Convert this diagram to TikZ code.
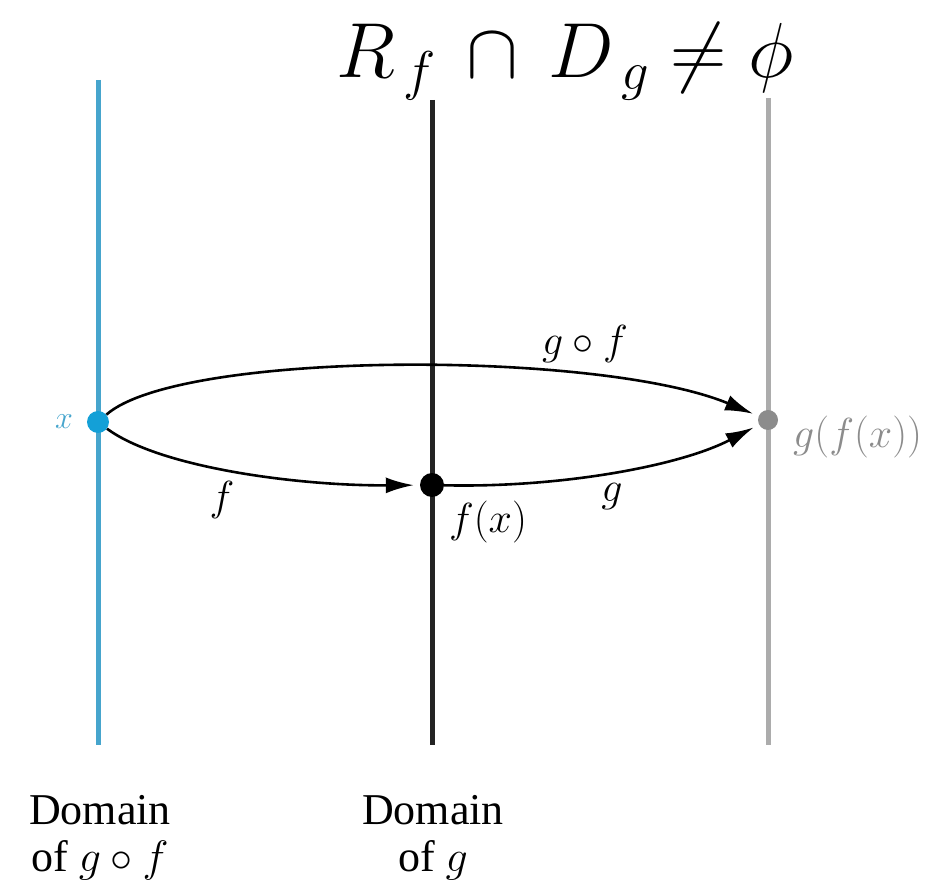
\RequirePackage{fix-cm}
\documentclass[tikz,border=0pt]{standalone}
\usepackage{fontspec}
\setmainfont{Liberation Serif}
\usetikzlibrary{arrows.meta}
\definecolor{bluel}{RGB}{70,165,205}
\definecolor{blued}{RGB}{20,160,215}
\definecolor{greyl}{RGB}{172,172,172}
\definecolor{greyd}{RGB}{140,140,140}
\definecolor{darkl}{RGB}{35,35,35}
\begin{document}
\begin{tikzpicture}[x=1pt,y=-1pt,
  dot/.style={circle,inner sep=0pt,minimum size=#1},
  arr/.style={line width=2.6pt,-{Latex[length=28pt,width=16pt]},shorten >=6pt},
  lbl/.style={inner sep=0pt,font=\fontsize{42}{44}\selectfont},
  domlbl/.style={inner sep=0pt,align=center,font=\fontsize{44}{47}\selectfont},
  axis/.style={line width=5pt}
]
\useasboundingbox (0,0) rectangle (930,890);
% vertical lines
\coordinate (b1) at (98,80);   \coordinate (b2) at (98,745);
\coordinate (m1) at (432,100); \coordinate (m2) at (432,745);
\coordinate (r1) at (768,98);  \coordinate (r2) at (768,745);
\draw[axis,bluel] (b1) -- (b2);
\draw[axis,darkl] (m1) -- (m2);
\draw[axis,greyl] (r1) -- (r2);
% title
\node[anchor=base,inner sep=0pt,font=\fontsize{78}{84}\selectfont] (title) at (565,78) {$R_{\,f}\,\cap\, D_{\,g}\neq\phi$};
% dots
\node[dot=22pt,fill=blued] (x) at (98,422) {};
\node[dot=24pt,fill=black] (fx) at (432,485) {};
\node[dot=20pt,fill=greyd] (gfx) at (768,420) {};
% arrows
\draw[arr] (x) .. controls (180,350) and (600,350) .. (gfx);
\draw[arr] (x) .. controls (160,468) and (300,486) .. (fx);
\draw[arr] (fx) .. controls (560,488) and (680,466) .. (gfx);
% labels
\node[lbl,text=bluel,font=\fontsize{32}{34}\selectfont] (xl) at (64,422) {$x$};
\node[lbl] (fl) at (222,500) {$f$};
\node[lbl] (fxl) at (488,522) {$f(x)$};
\node[lbl] (gl) at (612,497) {$g$};
\node[lbl] (gofl) at (585,344) {$g\circ f$};
\node[lbl,text=greyd,anchor=west] (gfxl) at (793,437) {$g(f(x))$};
\node[domlbl] (d1) at (100,838) {Domain\\of $g\circ f$};
\node[domlbl] (d2) at (433,838) {Domain\\of $g$};
\end{tikzpicture}
\end{document}
